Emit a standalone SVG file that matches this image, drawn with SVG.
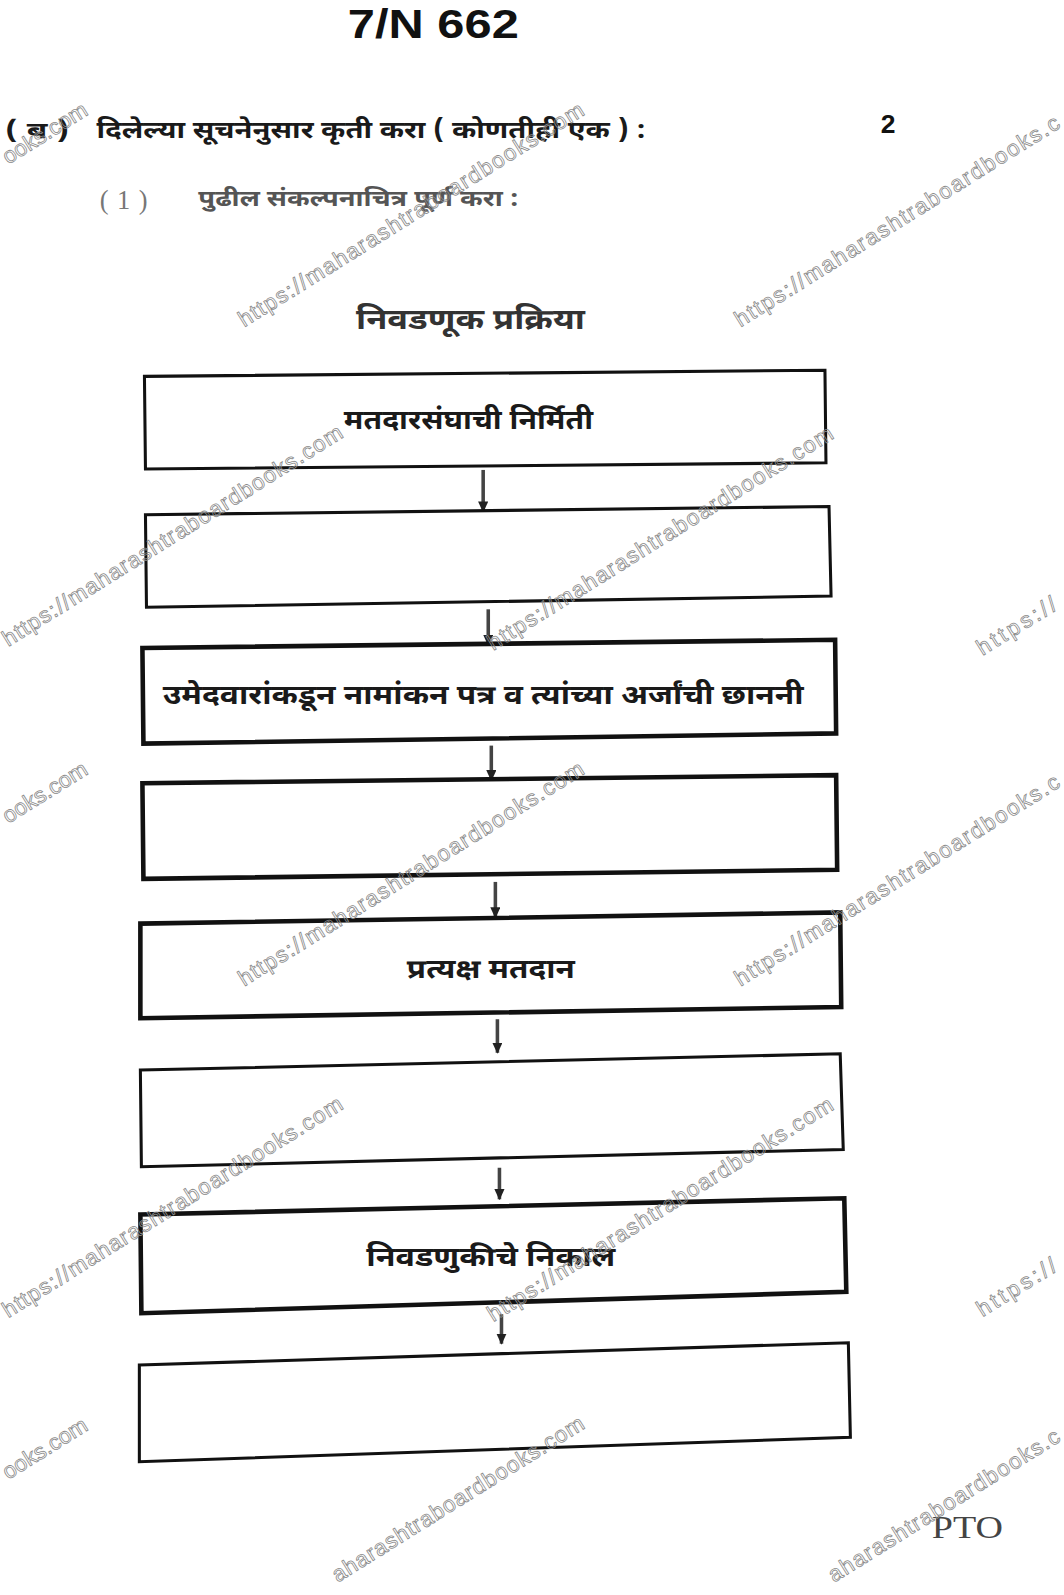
<svg xmlns="http://www.w3.org/2000/svg" width="1064" height="1595" viewBox="0 0 1064 1595">
<defs>
<style>
.box{fill:#fff;stroke:#111;stroke-width:3}
.thick{stroke-width:4.5}
.dv{font-family:"Noto Sans Devanagari","Noto Sans","DejaVu Sans",sans-serif;font-weight:bold;fill:#1a1a1a}
.lat{font-family:"Liberation Sans",sans-serif;font-weight:bold;fill:#111}
.wm{font-family:"Liberation Sans",sans-serif;font-size:22px;fill:none;stroke:#8a8a8a;stroke-width:0.8}
.conn{stroke:#444;stroke-width:3.5;fill:none}
</style>
<marker id="ah" markerWidth="11" markerHeight="10" refX="10" refY="5" orient="auto" markerUnits="userSpaceOnUse">
<path d="M0,0 L11,5 L0,10 Z" fill="#222"/>
</marker>
</defs>
<rect width="1064" height="1595" fill="#fff"/>
<g transform="scale(1.0172)">

<g id="header">
<text class="lat" x="342" y="37" font-size="40" textLength="168" lengthAdjust="spacingAndGlyphs">7/N  662</text>
<text class="lat" x="873" y="131" font-size="26" text-anchor="middle">2</text>
<text class="dv" x="5" y="136" font-size="22" textLength="63" lengthAdjust="spacingAndGlyphs">( ब )</text>
<text class="dv" x="95" y="136" font-size="24" textLength="540" lengthAdjust="spacingAndGlyphs">दिलेल्या सूचनेनुसार कृती करा ( कोणतीही एक ) :</text>
<text x="98" y="205" font-size="26" style="fill:#777" font-family="Liberation Serif, serif" textLength="47" lengthAdjust="spacing">(1)</text>
<text class="dv" x="195" y="203" font-size="22" textLength="315" lengthAdjust="spacingAndGlyphs" style="fill:#555">पुढील संकल्पनाचित्र पूर्ण करा :</text>
<text class="dv" x="350" y="323" font-size="28" textLength="225" lengthAdjust="spacingAndGlyphs" style="fill:#333">निवडणूक प्रक्रिया</text>
<text x="916" y="1512" font-size="30" font-family="Liberation Serif, serif" fill="#444" textLength="70" lengthAdjust="spacingAndGlyphs">PTO</text>
</g>

<g id="connectors">
<line class="conn" x1="475" y1="462" x2="475" y2="503" marker-end="url(#ah)"/>
<line class="conn" x1="480" y1="599" x2="480" y2="634" marker-end="url(#ah)"/>
<line class="conn" x1="483" y1="733" x2="483" y2="767" marker-end="url(#ah)"/>
<line class="conn" x1="487" y1="867" x2="487" y2="902" marker-end="url(#ah)"/>
<line class="conn" x1="489" y1="1002" x2="489" y2="1035" marker-end="url(#ah)"/>
<line class="conn" x1="491" y1="1148" x2="491" y2="1179" marker-end="url(#ah)"/>
<line class="conn" x1="493" y1="1292" x2="493" y2="1321" marker-end="url(#ah)"/>
</g>

<g id="node1">
<polygon class="box" points="142,370 811,364 812,455 143,461"/>
<text class="dv" x="338" y="422" font-size="26" textLength="245" lengthAdjust="spacingAndGlyphs">मतदारसंघाची निर्मिती</text>
</g>
<g id="node2">
<polygon class="box" points="143,506 815,498 817,586 144,597"/>
</g>
<g id="node3">
<polygon class="box thick" points="140,637 821,629 822,721 141,731"/>
<text class="dv" x="160" y="692" font-size="26" textLength="630" lengthAdjust="spacingAndGlyphs">उमेदवारांकडून नामांकन पत्र व त्यांच्या अर्जांची छाननी</text>
</g>
<g id="node4">
<polygon class="box thick" points="140,770 822,762 823,855 141,864"/>
</g>
<g id="node5">
<polygon class="box thick" points="138,908 826,897 827,990 138,1001"/>
<text class="dv" x="400" y="961" font-size="26" textLength="165" lengthAdjust="spacingAndGlyphs">प्रत्यक्ष मतदान</text>
</g>
<g id="node6">
<polygon class="box" points="138,1052 826,1036 829,1130 139,1147"/>
</g>
<g id="node7">
<polygon class="box thick" points="138,1194 830,1178 832,1270 139,1291"/>
<text class="dv" x="360" y="1245" font-size="26" textLength="245" lengthAdjust="spacingAndGlyphs">निवडणुकीचे निकाल</text>
</g>
<g id="node8">
<polygon class="box" points="137,1342 834,1320 836,1413 137,1437"/>
</g>

<g id="watermarks">
<text class="wm" transform="translate(8,162) rotate(-32)" textLength="94">ooks.com</text>
<text class="wm" transform="translate(240,322) rotate(-32)" textLength="396">https://maharashtraboardbooks.com</text>
<text class="wm" transform="translate(728,322) rotate(-32)" textLength="372">https://maharashtraboardbooks.c</text>
<text class="wm" transform="translate(8,636) rotate(-32)" textLength="390">https://maharashtraboardbooks.com</text>
<text class="wm" transform="translate(485,640) rotate(-32)" textLength="396">https://maharashtraboardbooks.com</text>
<text class="wm" transform="translate(966,645) rotate(-32)" textLength="88">https://</text>
<text class="wm" transform="translate(8,810) rotate(-32)" textLength="94">ooks.com</text>
<text class="wm" transform="translate(240,970) rotate(-32)" textLength="396">https://maharashtraboardbooks.com</text>
<text class="wm" transform="translate(728,970) rotate(-32)" textLength="372">https://maharashtraboardbooks.c</text>
<text class="wm" transform="translate(8,1296) rotate(-32)" textLength="390">https://maharashtraboardbooks.com</text>
<text class="wm" transform="translate(485,1300) rotate(-32)" textLength="396">https://maharashtraboardbooks.com</text>
<text class="wm" transform="translate(966,1295) rotate(-32)" textLength="88">https://</text>
<text class="wm" transform="translate(8,1455) rotate(-32)" textLength="94">ooks.com</text>
<text class="wm" transform="translate(332,1556) rotate(-32)" textLength="288">aharashtraboardbooks.com</text>
<text class="wm" transform="translate(820,1556) rotate(-32)" textLength="264">aharashtraboardbooks.c</text>
</g>
</g>
</svg>
